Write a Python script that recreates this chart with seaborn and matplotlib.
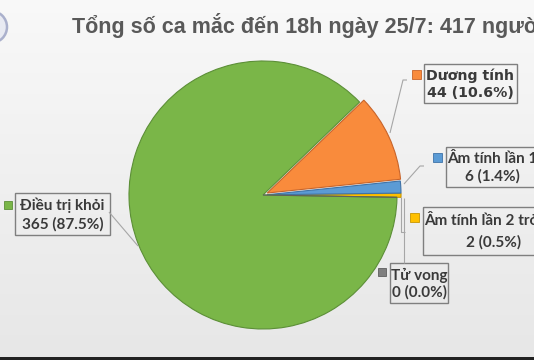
import matplotlib
matplotlib.use("Agg")
import matplotlib.pyplot as plt
import seaborn as sns
import numpy as np
from matplotlib.patches import Rectangle, Circle

# ---------------- data ----------------
title = "Tổng số ca mắc đến 18h ngày 25/7: 417 người"
categories = ["Âm tính lần 2 trở lên", "Âm tính lần 1", "Dương tính", "Điều trị khỏi", "Tử vong"]
counts = [2, 6, 44, 365, 0]
percents = ["0.5%", "1.4%", "10.6%", "87.5%", "0.0%"]

# ---------------- style ----------------
colors = ["#FFC000", "#5B9BD5", "#F98B3C", "#7AB648", "#7F7F7F"]
edge_colors = ["#C89600", "#3F73A8", "#C8642A", "#5C8F37", "#5F5F5F"]
explode = [0.03, 0.03, 0.035, 0, 0]

W, H = 534, 360
sns.set_theme(style="white")
palette = sns.color_palette(colors)
calibri_like = ["Lato", "DejaVu Sans"]

fig = plt.figure(figsize=(W / 100, H / 100), dpi=100)

# background gradient
bg = fig.add_axes([0, 0, 1, 1], zorder=0)
grad = np.linspace(0.975, 0.905, 256).reshape(-1, 1)
bg.imshow(np.dstack([grad, grad, grad]), aspect="auto", extent=[0, W, H, 0])
bg.set_xlim(0, W)
bg.set_ylim(H, 0)
bg.axis("off")

# pie
cx, cy, r = 263, 195, 134
pax = fig.add_axes([(cx - 1.25 * r) / W, (H - cy - 1.25 * r) / H, 2.5 * r / W, 2.5 * r / H], zorder=1)
wedges, _ = pax.pie(counts, colors=palette, startangle=-1, counterclock=True,
                    explode=explode, wedgeprops=dict(linewidth=0.8))
for w, ec in zip(wedges, edge_colors):
    w.set_edgecolor(ec)
    w.set_clip_on(False)
pax.set_xlim(-1.25, 1.25)
pax.set_ylim(-1.25, 1.25)
pax.set_aspect("equal")
pax.axis("off")

# overlay in pixel coordinates
ov = fig.add_axes([0, 0, 1, 1], zorder=2)
ov.set_xlim(0, W)
ov.set_ylim(H, 0)
ov.axis("off")
ov.patch.set_visible(False)

# logo (partly cut off)
ov.add_patch(Circle((-9, 27), 16, facecolor="#e8eaf2", edgecolor="#aab0cc", lw=1.8, clip_on=False))
# title
ov.text(72, 33, title, fontsize=15.5, fontweight="bold", color="#595959",
        family="Liberation Sans", ha="left", va="baseline")
# bottom dark strip
ov.add_patch(Rectangle((0, 357), W, 3, facecolor="#222222", edgecolor="none"))

# labels: (box x0, y0, x1, y1), marker (x, y, size), family, fontsize, leader points
layout = {
    "Dương tính": dict(box=(424, 64, 517, 103), mk=(412, 70, 9), fam=["DejaVu Sans"], fs=10.2,
                       lead=[(390, 133), (403, 80), (407, 80)]),
    "Âm tính lần 1": dict(box=(446, 147, 538, 187), mk=(433, 153, 9), fam=calibri_like, fs=11,
                          lead=[(404, 184), (420, 166), (424, 166)]),
    "Âm tính lần 2 trở lên": dict(box=(423, 207, 565, 255), mk=(410, 213, 9), fam=calibri_like, fs=11,
                                  lead=[(401, 197), (401, 232), (405, 232)]),
    "Tử vong": dict(box=(390, 263, 448, 303), mk=(378, 268, 8), fam=calibri_like, fs=11,
                    lead=[(404, 198), (404, 263)]),
    "Điều trị khỏi": dict(box=(15, 193, 110, 235), mk=(4, 201, 8), fam=calibri_like, fs=11,
                          lead=[(109, 212), (138, 246)]),
}

for cat, n, pct, col, ec in zip(categories, counts, percents, colors, edge_colors):
    L = layout[cat]
    x0, y0, x1, y1 = L["box"]
    xs, ys = zip(*L["lead"])
    ov.plot(xs, ys, color="#a6a6a6", lw=0.8, solid_capstyle="butt")
    ov.add_patch(Rectangle((x0, y0), x1 - x0, y1 - y0, facecolor="none",
                           edgecolor="#7f7f7f", lw=1.0, clip_on=False))
    mx, my, ms = L["mk"]
    ov.add_patch(Rectangle((mx, my), ms, ms, facecolor=col, edgecolor=ec, lw=0.6))
    xc = (x0 + x1) / 2
    h = y1 - y0
    ov.text(xc, y0 + h * 0.3, cat, ha="center", va="center", fontsize=L["fs"],
            fontweight="bold", color="#3a3a3a", family=L["fam"], clip_on=False)
    ov.text(xc, y0 + h * 0.74, f"{n} ({pct})", ha="center", va="center", fontsize=L["fs"],
            fontweight="bold", color="#3a3a3a", family=L["fam"], clip_on=False)

fig.savefig("out.png", dpi=100)
